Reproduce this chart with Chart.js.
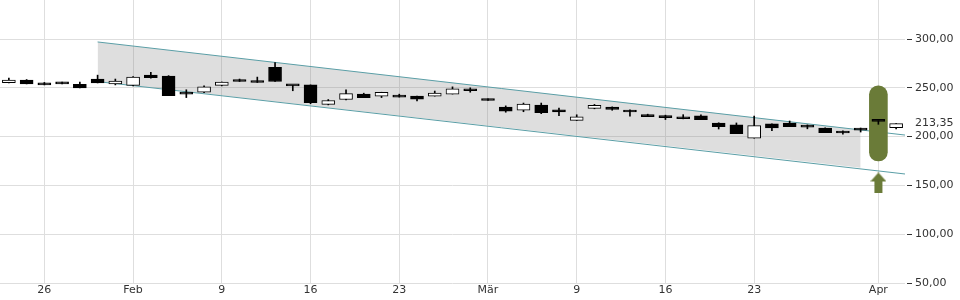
<!DOCTYPE html>
<html lang="de">
<head>
<meta charset="UTF-8">
<title>Kursverlauf</title>
<script src="https://cdn.jsdelivr.net/npm/chart.js"></script>
<style>
  html, body { margin: 0; padding: 0; background: #fff; }
  #wrap { width: 960px; height: 300px; }
</style>
</head>
<body>
<div id="wrap"><canvas id="chart"></canvas></div>
<script>
// trading days (weekends left out)
const days = [
  '2026-01-22','2026-01-23','2026-01-26','2026-01-27','2026-01-28','2026-01-29','2026-01-30',
  '2026-02-02','2026-02-03','2026-02-04','2026-02-05','2026-02-06',
  '2026-02-09','2026-02-10','2026-02-11','2026-02-12','2026-02-13',
  '2026-02-16','2026-02-17','2026-02-18','2026-02-19','2026-02-20',
  '2026-02-23','2026-02-24','2026-02-25','2026-02-26','2026-02-27',
  '2026-03-02','2026-03-03','2026-03-04','2026-03-05','2026-03-06',
  '2026-03-09','2026-03-10','2026-03-11','2026-03-12','2026-03-13',
  '2026-03-16','2026-03-17','2026-03-18','2026-03-19','2026-03-20',
  '2026-03-23','2026-03-24','2026-03-25','2026-03-26','2026-03-27',
  '2026-03-30','2026-03-31','2026-04-01','2026-04-02'
];
const open = [
  255.3, 258, 255, 254.5, 253.5, 259, 254,
  252.5, 263, 262, 245, 245.5,
  252.5, 258, 255.5, 271, 252.2,
  253, 233, 238, 243.5, 241.5,
  242.5, 241.5, 241.5, 243.6, 249,
  238.5, 230.3, 227, 232.4, 227.5,
  216.7, 229, 230.3, 227.3, 221,
  219.6, 218.5, 221.4, 214, 212.2,
  198.3, 213, 214, 210, 208.8,
  205.7, 206.7, 215.6, 209.3
];
const high = [
  260, 258.5, 255.5, 256, 256, 263, 259,
  261.5, 266, 262.5, 248, 252,
  256, 259, 261, 276, 252.5,
  253, 238, 248, 244.5, 245.5,
  243.5, 241.5, 246.7, 251, 250,
  238.8, 231.5, 234.4, 234.4, 229.3,
  222.4, 233, 230.5, 227.5, 223,
  222, 222.5, 222.4, 214.2, 214,
  221, 213.2, 216, 212, 209,
  206, 208.8, 216.2, 213.35
];
const low = [
  255, 254, 253, 254, 250, 255, 253,
  252, 260, 242, 240, 245,
  252, 256.5, 255.5, 256.5, 247,
  233.7, 232.5, 237.5, 240, 240,
  240.5, 236.5, 241.5, 243.6, 245.5,
  237, 225, 225.5, 223.5, 221.5,
  216.5, 228.5, 227, 221, 220.5,
  217.5, 218.2, 217.3, 207.8, 203,
  198.3, 206, 210.2, 208, 204,
  202.6, 204.7, 212.6, 207.8
];
const close = [
  258, 254, 253, 254, 250, 255, 257,
  261, 260.5, 242, 243.5, 251,
  256, 256.5, 255.7, 256.5, 252,
  234.7, 237, 244, 240, 245.5,
  240.5, 238.5, 244.5, 249, 247,
  237, 226, 233.4, 224.5, 225.2,
  220.4, 232, 228, 225.2, 220.5,
  219.4, 218.3, 217.3, 210.2, 203,
  211.2, 209, 210.2, 209.8, 204,
  203.7, 206.9, 216, 213.35
];

// x axis labels
const tickDays = ['2026-01-26','2026-02-02','2026-02-09','2026-02-16','2026-02-23',
                  '2026-03-02','2026-03-09','2026-03-16','2026-03-23','2026-04-01'];
const tickLabels = ['26','Feb','9','16','23','Mär','9','16','23','Apr'];

// y axis labels
const yTicks = [50, 100, 150, 200, 250, 300];
const lastPrice = 213.35;

// trend channel (x in trading-day index)
const channelX = [5, 50.5];
const channelUpper = [297, 201.6];
const channelLower = [256.4, 161.7];
const shadeX = [5, 48];
const shadeUpper = [297, 207];
const shadeLower = [256.4, 168];

// signal marker
const signalDay = '2026-04-01';
const signalRange = [175, 252];
const arrowLevel = 152.5;

const olive = '#6a7b38';
const teal = '#5a9ea6';
const font = { family: 'DejaVu Sans', size: 11 };

// small up arrow icon
const arrow = document.createElement('canvas');
arrow.width = 16; arrow.height = 21;
const a = arrow.getContext('2d');
a.fillStyle = olive;
a.beginPath(); a.moveTo(0, 9); a.lineTo(8, 0); a.lineTo(16, 9); a.closePath(); a.fill();
a.fillRect(4, 8, 8, 13);

const tickIdx = tickDays.map(d => days.indexOf(d));
const fmt = v => v.toFixed(2).replace('.', ',');

const ctx = document.getElementById('chart').getContext('2d');
new Chart(ctx, {
  type: 'bar',
  data: {
    labels: days,
    datasets: [
      {
        // candle bodies
        type: 'bar', xAxisID: 'x', order: 0,
        data: days.map((d, i) => [open[i], close[i]]),
        backgroundColor: close.map((c, i) => c > open[i] + 0.5 ? '#ffffff' : '#000000'),
        borderColor: '#000', borderWidth: 1, borderSkipped: false,
        barThickness: 13, minBarLength: 2, grouped: false
      },
      {
        // wicks
        type: 'bar', xAxisID: 'x', order: 1,
        data: days.map((d, i) => [low[i], high[i]]),
        backgroundColor: '#000', borderWidth: 0,
        barThickness: 1, grouped: false
      },
      {
        type: 'bar', xAxisID: 'x', order: 2,
        data: [{ x: signalDay, y: signalRange }],
        backgroundColor: olive, borderWidth: 0, borderSkipped: false,
        borderRadius: 9, barThickness: 18, grouped: false
      },
      {
        type: 'line', xAxisID: 'x', order: 2,
        data: [{ x: signalDay, y: arrowLevel }],
        showLine: false, pointStyle: arrow, pointRadius: 0.1, pointBorderWidth: 0
      },
      {
        type: 'line', xAxisID: 'xl', order: 3,
        data: channelX.map((x, i) => ({ x, y: channelUpper[i] })),
        borderColor: teal, borderWidth: 1, pointRadius: 0, fill: false
      },
      {
        type: 'line', xAxisID: 'xl', order: 3,
        data: channelX.map((x, i) => ({ x, y: channelLower[i] })),
        borderColor: teal, borderWidth: 1, pointRadius: 0, fill: false
      },
      {
        type: 'line', xAxisID: 'xl', order: 4,
        data: shadeX.map((x, i) => ({ x, y: shadeUpper[i] })),
        borderWidth: 0, pointRadius: 0,
        backgroundColor: 'rgba(128,128,128,0.26)', fill: '+1'
      },
      {
        type: 'line', xAxisID: 'xl', order: 4,
        data: shadeX.map((x, i) => ({ x, y: shadeLower[i] })),
        borderWidth: 0, pointRadius: 0, fill: false
      }
    ]
  },
  options: {
    responsive: true,
    maintainAspectRatio: false,
    animation: false,
    layout: { padding: 0, autoPadding: false },
    plugins: { legend: { display: false }, tooltip: { enabled: false } },
    scales: {
      x: {
        type: 'category',
        offset: true,
        grid: { offset: false, color: '#dedede', drawTicks: false },
        border: { display: false },
        ticks: {
          autoSkip: false, maxRotation: 0, padding: 1, font, color: '#333',
          callback: v => tickLabels[tickIdx.indexOf(v)]
        },
        afterBuildTicks: s => { s.ticks = tickIdx.map(i => ({ value: i })); },
        afterFit: s => { s.height = 17; s.paddingLeft = 0; s.paddingRight = 0; }
      },
      xl: {
        type: 'linear', display: false, offset: false, grid: { offset: false },
        min: -0.5, max: days.length - 0.5
      },
      y: {
        position: 'right',
        min: 50, max: 340,
        grid: {
          color: c => c.tick && c.tick.value === lastPrice ? 'rgba(0,0,0,0)' : '#dedede',
          tickColor: c => c.tick && c.tick.value === lastPrice ? 'rgba(0,0,0,0)' : '#333',
          tickLength: 7, tickBorderDash: [5, 2], tickBorderDashOffset: 5
        },
        border: { display: false },
        ticks: { font, color: '#333', padding: 3, callback: v => fmt(v) },
        afterBuildTicks: s => { s.ticks = yTicks.concat([lastPrice]).map(v => ({ value: v })); },
        afterFit: s => { s.width = 55; s.paddingTop = 0; s.paddingBottom = 0; }
      }
    }
  }
});
</script>
</body>
</html>
